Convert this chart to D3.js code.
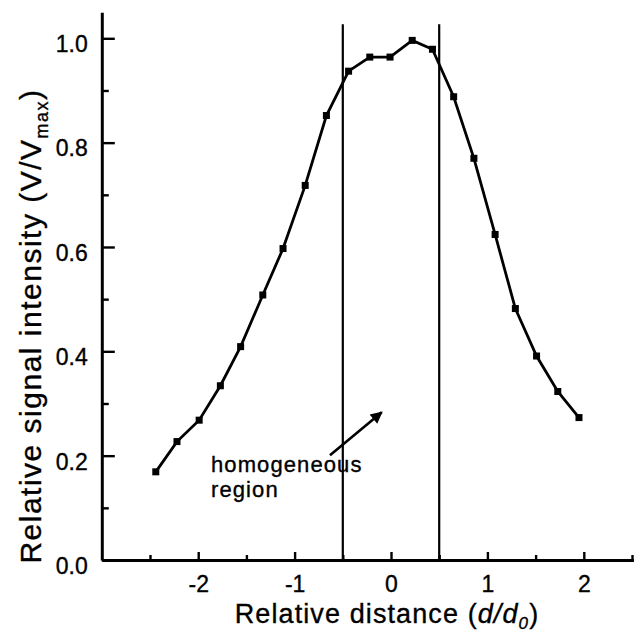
<!DOCTYPE html>
<html>
<head>
<meta charset="utf-8">
<script src="https://cdn.jsdelivr.net/npm/d3@7"></script>
<style>
  body { margin: 0; background: #fff; }
  text { font-family: "Liberation Sans", Arial, sans-serif; fill: #000; stroke: #000; stroke-width: 0.35px; }
</style>
</head>
<body>
<div id="chart"></div>
<script>
'use strict';

// data
const distance = [-2.44, -2.22, -1.99, -1.77, -1.56, -1.33, -1.12, -0.89, -0.67, -0.44, -0.22,
  -0.01, 0.22, 0.43, 0.65, 0.86, 1.08, 1.29, 1.51, 1.73, 1.95]
const intensity = [0.169, 0.227, 0.268, 0.334, 0.409, 0.508, 0.597, 0.718, 0.852, 0.937, 0.964,
  0.964, 0.996, 0.979, 0.888, 0.770, 0.624, 0.482, 0.391, 0.323, 0.273]
const xMajorTicks = [-2, -1, 0, 1, 2]
const xMinorTicks = [-2.5, -1.5, -0.5, 0.5, 1.5, 2.5]
const yMajorTicks = [0.0, 0.2, 0.4, 0.6, 0.8, 1.0]
const yMinorTicks = [0.1, 0.3, 0.5, 0.7, 0.9]
const regionBounds = [-0.5, 0.5]
const arrowFrom = [-0.633, 0.201]
const arrowTo = [-0.096, 0.283]
const labelLines = ['homogeneous', 'region']
const labelAt = [-1.867, 0.169]

const dimensions = {
  width: 634,
  height: 634,
  left: 101.8,
  unitX: 96.4,
  bottom: 560,
  unitY: 521.7
}

const data = distance.map((d, i) => ({x: d, y: intensity[i]}))

const svg = d3.select('#chart')
  .append('svg')
  .attr('width', dimensions.width)
  .attr('height', dimensions.height)

// scales
const xScale = d3.scaleLinear()
  .domain([-3, 2.7])
  .range([dimensions.left, dimensions.left + 5.7 * dimensions.unitX])
const yScale = d3.scaleLinear()
  .domain([0, 1.05])
  .range([dimensions.bottom, dimensions.bottom - 1.05 * dimensions.unitY])

// vertical lines marking the homogeneous region
svg.append('g')
  .selectAll('line')
  .data(regionBounds)
  .join('line')
  .attr('x1', d => xScale(d))
  .attr('x2', d => xScale(d))
  .attr('y1', yScale(0))
  .attr('y2', yScale(1.027))
  .attr('stroke', '#000')
  .attr('stroke-width', 2.2)

// minor ticks first, then major ticks with labels
const yMinor = svg.append('g')
  .attr('transform', `translate(${dimensions.left},0)`)
  .call(d3.axisLeft(yScale).tickValues(yMinorTicks).tickSize(-7).tickFormat(''))
const yAxis = svg.append('g')
  .attr('transform', `translate(${dimensions.left},0)`)
  .call(d3.axisLeft(yScale).tickValues(yMajorTicks).tickSize(-13).tickSizeOuter(0)
    .tickPadding(14).tickFormat(d3.format('.1f')))
yAxis.selectAll('text')
  .style('font-size', '23px')
  .attr('dy', '0.58em')

const xMinor = svg.append('g')
  .attr('transform', `translate(0,${dimensions.bottom})`)
  .call(d3.axisBottom(xScale).tickValues(xMinorTicks).tickSize(-5).tickFormat(''))
const xAxis = svg.append('g')
  .attr('transform', `translate(0,${dimensions.bottom})`)
  .call(d3.axisBottom(xScale).tickValues(xMajorTicks).tickSize(-8).tickSizeOuter(0)
    .tickPadding(16).tickFormat(d => String(d)))
xAxis.selectAll('text')
  .style('font-size', '23px')

// axis styling
svg.selectAll('.domain').attr('stroke', '#000').attr('stroke-width', 3)
svg.selectAll('.tick line').attr('stroke', '#000').attr('stroke-width', 2.4)
yMinor.select('.domain').remove()
xMinor.select('.domain').remove()

// the profile line
const line = d3.line()
  .x(d => xScale(d.x))
  .y(d => yScale(d.y))
svg.append('path')
  .datum(data)
  .attr('d', line)
  .attr('fill', 'none')
  .attr('stroke', '#000')
  .attr('stroke-width', 2.8)

// square markers
const size = 7
svg.append('g')
  .selectAll('rect')
  .data(data)
  .join('rect')
  .attr('x', d => xScale(d.x) - size / 2)
  .attr('y', d => yScale(d.y) - size / 2)
  .attr('width', size)
  .attr('height', size)
  .attr('fill', '#000')

// arrow pointing into the region
svg.append('defs')
  .append('marker')
  .attr('id', 'head')
  .attr('viewBox', '0 0 10 10')
  .attr('refX', 9)
  .attr('refY', 5)
  .attr('markerWidth', 15)
  .attr('markerHeight', 12)
  .attr('markerUnits', 'userSpaceOnUse')
  .attr('orient', 'auto')
  .append('path')
  .attr('d', 'M0,0 L10,5 L0,10 Z')
  .attr('fill', '#000')
svg.append('line')
  .attr('x1', xScale(arrowFrom[0]))
  .attr('y1', yScale(arrowFrom[1]))
  .attr('x2', xScale(arrowTo[0]))
  .attr('y2', yScale(arrowTo[1]))
  .attr('stroke', '#000')
  .attr('stroke-width', 2.6)
  .attr('marker-end', 'url(#head)')

// annotation, two lines
svg.append('g')
  .selectAll('text')
  .data(labelLines)
  .join('text')
  .attr('x', xScale(labelAt[0]))
  .attr('y', (d, i) => yScale(labelAt[1]) + i * 25)
  .style('font-size', '22px')
  .style('letter-spacing', '1.1px')
  .text(d => d)

// x title
const xTitle = svg.append('text')
  .attr('x', 387)
  .attr('y', 623)
  .attr('text-anchor', 'middle')
  .style('font-size', '27px')
  .style('letter-spacing', '1.1px')
xTitle.append('tspan').text('Relative distance (')
xTitle.append('tspan').style('font-style', 'italic').text('d/d')
xTitle.append('tspan').style('font-style', 'italic').style('font-size', '17px')
  .attr('dy', 6).text('0')
xTitle.append('tspan').attr('dy', -6).text(')')

// y title
const yTitle = svg.append('text')
  .attr('transform', 'translate(41,326) rotate(-90)')
  .attr('text-anchor', 'middle')
  .style('font-size', '30px')
  .style('letter-spacing', '1.5px')
yTitle.append('tspan').text('Relative signal intensity (V/V')
yTitle.append('tspan').style('font-size', '18px').attr('dy', 7).text('max')
yTitle.append('tspan').attr('dy', -7).text(')')
</script>
</body>
</html>
